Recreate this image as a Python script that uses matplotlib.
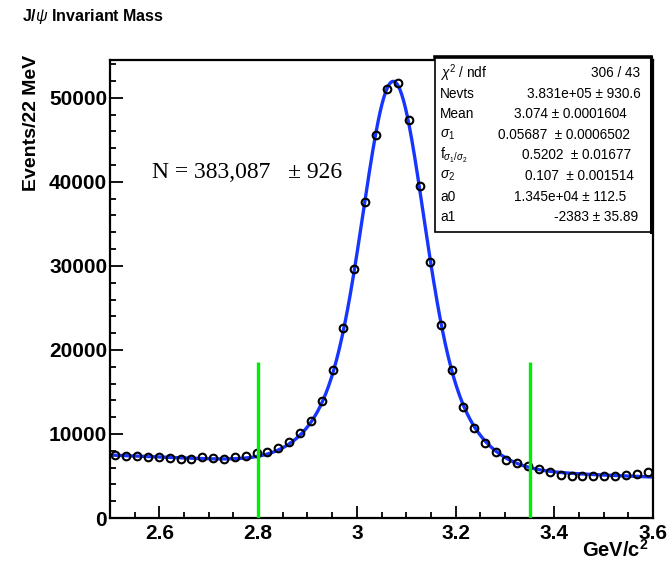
import numpy as np
import matplotlib
matplotlib.use("Agg")
import matplotlib.pyplot as plt
from matplotlib.ticker import MultipleLocator
from matplotlib.patches import Rectangle
from matplotlib.lines import Line2D

# Histogram binning: 50 bins of 22 MeV between 2.5 and 3.6 GeV/c^2
mass_lo, mass_hi, n_bins = 2.5, 3.6, 50

# Entries per bin
counts = [7450, 7380, 7320, 7280, 7230, 7150, 7030, 7080, 7200, 7120,
          7020, 7250, 7380, 7700, 7800, 8300, 9100, 10100, 11600, 13900,
          17600, 22600, 29600, 37600, 45600, 51000, 51800, 47400, 39500, 30500,
          23000, 17600, 13200, 10700, 8900, 7900, 6900, 6500, 6200, 5800,
          5450, 5150, 5000, 4950, 5000, 5000, 5050, 5150, 5250, 5500]

# Fit results: double Gaussian signal + linear background
fit_nevts = 3.831e5
fit_mean = 3.074
fit_sigma1 = 0.05687
fit_frac = 0.5202
fit_sigma2 = 0.107
fit_a0 = 1.345e4
fit_a1 = -2383

# Signal window
window = [2.8, 3.35]

stat_names = [r"$\chi^2$ / ndf", "Nevts", "Mean", r"$\sigma_1$",
              r"f$_{\sigma_1/\sigma_2}$", r"$\sigma_2$", "a0", "a1"]
stat_values = ["306 / 43", "3.831e+05 \u00b1 930.6", "3.074 \u00b1 0.0001604",
               "0.05687  \u00b1 0.0006502", "0.5202  \u00b1 0.01677",
               "0.107  \u00b1 0.001514", "1.345e+04 \u00b1 112.5", "-2383 \u00b1 35.89"]
stat_right = [640, 641, 627, 630, 631, 634, 626, 638]

edges = np.linspace(mass_lo, mass_hi, n_bins + 1)
centers = 0.5 * (edges[:-1] + edges[1:])
bw = edges[1] - edges[0]


def fit_model(x):
    g1 = np.exp(-0.5 * ((x - fit_mean) / fit_sigma1) ** 2) / (fit_sigma1 * np.sqrt(2 * np.pi))
    g2 = np.exp(-0.5 * ((x - fit_mean) / fit_sigma2) ** 2) / (fit_sigma2 * np.sqrt(2 * np.pi))
    return fit_nevts * bw * (fit_frac * g1 + (1 - fit_frac) * g2) + fit_a0 + fit_a1 * x


plt.rcParams['font.family'] = ['Liberation Sans', 'DejaVu Sans']
plt.rcParams['mathtext.fontset'] = 'custom'
plt.rcParams['mathtext.rm'] = 'Liberation Sans'
plt.rcParams['mathtext.it'] = 'Liberation Sans:italic'
plt.rcParams['mathtext.bf'] = 'Liberation Sans:bold'

fig = plt.figure(figsize=(6.72, 5.63), dpi=100)
ax = fig.add_axes([110 / 672, 1 - 518 / 563, 543 / 672, 458 / 563])

xf = np.linspace(mass_lo, mass_hi, 600)
ax.plot(xf, fit_model(xf), color='#1636ff', lw=2.4, zorder=2)
ax.plot(centers, counts, linestyle='none', marker='o', ms=5.5, mfc='none',
        mec='black', mew=1.5, zorder=3)
ax.vlines(window, 0, 18600, colors='#00ee00', lw=2.4, zorder=4)

ax.set_xlim(mass_lo, mass_hi)
ax.set_ylim(0, 54500)
ax.xaxis.set_major_locator(MultipleLocator(0.2))
ax.xaxis.set_minor_locator(MultipleLocator(0.05))
ax.yaxis.set_major_locator(MultipleLocator(10000))
ax.yaxis.set_minor_locator(MultipleLocator(2000))
ax.tick_params(which='both', direction='in', top=False, right=False, width=1.3)
ax.tick_params(which='major', length=9, labelsize=15)
ax.tick_params(axis='x', which='major', pad=4)
ax.tick_params(axis='y', which='major', pad=2)
ax.tick_params(which='minor', length=4.5)
ax.set_xticks([2.6, 2.8, 3.0, 3.2, 3.4, 3.6])
ax.set_xticklabels(['2.6', '2.8', '3', '3.2', '3.4', '3.6'])
for lab in ax.get_xticklabels() + ax.get_yticklabels():
    lab.set_fontweight('bold')
for s in ax.spines.values():
    s.set_linewidth(1.6)

fig.text(22 / 672, 1 - 16 / 563, r"J/$\psi$ Invariant Mass", fontsize=11.5,
         fontweight='bold', va='center', ha='left')
fig.text(31 / 672, 1 - 55 / 563, "Events/22 MeV", rotation=90, fontsize=14,
         fontweight='bold', ha='center', va='top')
fig.text(648 / 672, 1 - 557 / 563, r"GeV/c$^{\mathbf{2}}$", fontsize=14.5,
         fontweight='bold', ha='right', va='baseline')

ax.text(42 / 543, 1 - 112 / 458, "N = 383,087   \u00b1 926", transform=ax.transAxes,
        family=['Liberation Serif', 'DejaVu Serif'], fontsize=17, va='center')

# Fit statistics box
bx0, bx1, by0, by1 = 435 / 672, 651 / 672, 1 - 232 / 563, 1 - 57 / 563
fig.patches.append(Rectangle((bx0, by0), bx1 - bx0, by1 - by0, transform=fig.transFigure,
                             facecolor='white', edgecolor='black', lw=1.2, zorder=5))
fig.lines.append(Line2D([bx0, bx1], [by1, by1], transform=fig.transFigure,
                        color='black', lw=2.6, zorder=6))
fig.lines.append(Line2D([bx1, bx1], [by0, by1], transform=fig.transFigure,
                        color='black', lw=2.2, zorder=6))
row_y = [73, 94, 114, 135, 155, 176, 197, 217]
for name, val, ry, rx in zip(stat_names, stat_values, row_y, stat_right):
    fig.text(440 / 672, 1 - ry / 563, name, fontsize=9.8, va='center', ha='left', zorder=7)
    fig.text(rx / 672, 1 - ry / 563, val, fontsize=9.8, va='center', ha='right', zorder=7)

fig.savefig("out.png", dpi=100)
